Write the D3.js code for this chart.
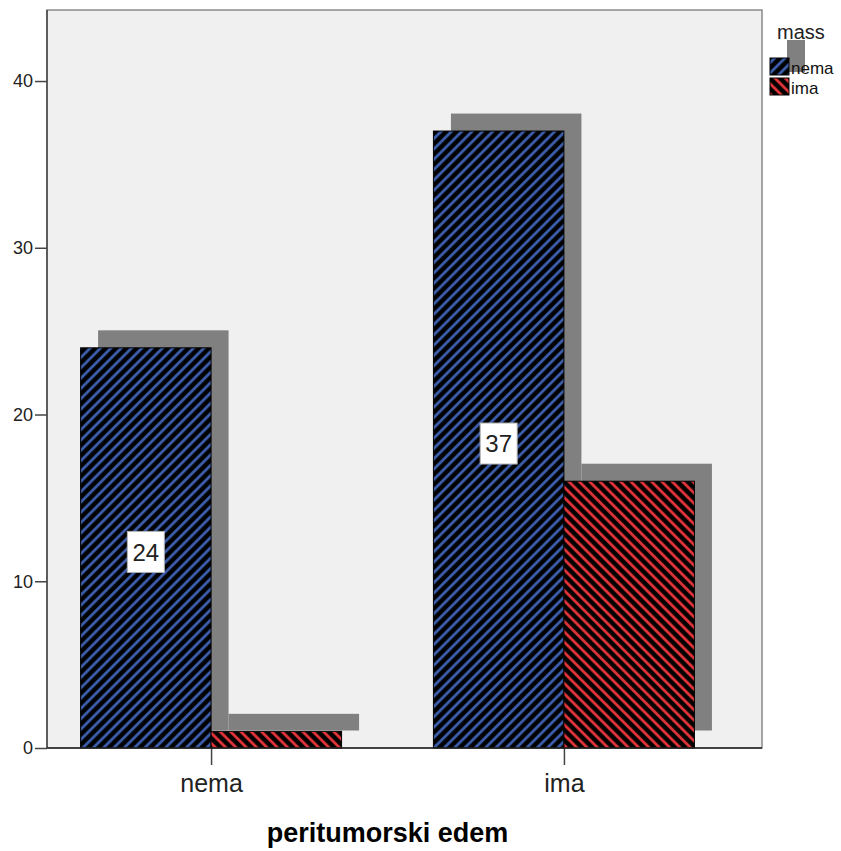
<!DOCTYPE html>
<html>
<head>
<meta charset="utf-8">
<script src="https://cdn.jsdelivr.net/npm/d3@7"></script>
<style>
  body { margin: 0; background: #fff; }
  text { font-family: "Liberation Sans", Arial, sans-serif; }
</style>
</head>
<body>
<script>
/* data */
var categories = ["nema", "ima"];          // peritumorski edem
var seriesNames = ["nema", "ima"];         // mass
var nemaValues = [24, 37];
var imaValues = [1, 16];
var yTicks = [0, 10, 20, 30, 40];
var xTitle = "peritumorski edem";
var legendTitle = "mass";

var width = 841, height = 851;
var plotLeft = 47, plotRight = 762, plotTop = 10, plotBottom = 748;
var depth = 17.5;   // offset of the grey shadow

var rows = [];
categories.forEach(function(c, i){
    rows.push({cat: c, series: "nema", value: nemaValues[i], label: true});
    rows.push({cat: c, series: "ima", value: imaValues[i], label: false});
});

var svg = d3.select("body").append("svg")
    .attr("width", width).attr("height", height);

// stripe patterns
var defs = svg.append("defs");
function stripes(id, color, angle){
    var p = defs.append("pattern").attr("id", id)
        .attr("patternUnits", "userSpaceOnUse")
        .attr("width", 7.3).attr("height", 7.3)
        .attr("patternTransform", "rotate(" + angle + ")");
    p.append("rect").attr("width", 7.3).attr("height", 7.3).attr("fill", "#000");
    p.append("rect").attr("x", 2).attr("width", 2.8).attr("height", 7.3).attr("fill", color);
}
stripes("pat-nema", "#3d5fad", 45);
stripes("pat-ima", "#e5353b", -45);
var fills = {nema: "url(#pat-nema)", ima: "url(#pat-ima)"};

// scales
var y = d3.scaleLinear().domain([0, 44.26]).range([plotBottom, plotTop]);
var x = d3.scalePoint().domain(categories).range([plotLeft, 728]).padding(0.465);
var xs = d3.scaleBand().domain(seriesNames).range([-130.5, 130.5]);

// plot background
svg.append("rect")
    .attr("x", plotLeft).attr("y", plotTop)
    .attr("width", plotRight - plotLeft).attr("height", plotBottom - plotTop)
    .attr("fill", "#f0f0f0").attr("stroke", "#8a8a8a").attr("stroke-width", 1.5);

// shadows
svg.append("g").selectAll("rect").data(rows).enter().append("rect")
    .attr("x", function(d){ return x(d.cat) + xs(d.series) + depth; })
    .attr("y", function(d){ return y(d.value) - depth; })
    .attr("width", xs.bandwidth())
    .attr("height", function(d){ return y(0) - y(d.value); })
    .attr("fill", "#808080");

// bars
svg.append("g").selectAll("rect").data(rows).enter().append("rect")
    .attr("x", function(d){ return x(d.cat) + xs(d.series); })
    .attr("y", function(d){ return y(d.value); })
    .attr("width", xs.bandwidth())
    .attr("height", function(d){ return y(0) - y(d.value); })
    .attr("fill", function(d){ return fills[d.series]; })
    .attr("stroke", "#000").attr("stroke-width", 1);

// value labels
var lab = svg.append("g").selectAll("g").data(rows.filter(function(d){ return d.label; }))
    .enter().append("g")
    .attr("transform", function(d){
        return "translate(" + (x(d.cat) + xs(d.series) + xs.bandwidth() / 2) + "," + ((y(d.value) + y(0)) / 2 + 4) + ")";
    });
lab.append("rect").attr("x", -18.5).attr("y", -20.5).attr("width", 37).attr("height", 41)
    .attr("fill", "#fff").attr("stroke", "#b0b0b0").attr("stroke-width", 1);
lab.append("text").attr("text-anchor", "middle").attr("dy", "0.36em")
    .style("font-size", "24px").attr("fill", "#222")
    .text(function(d){ return d.value; });

// y axis
var yAxis = svg.append("g").attr("transform", "translate(" + plotLeft + ",0)")
    .call(d3.axisLeft(y).tickValues(yTicks).tickSize(12).tickPadding(2));
yAxis.select(".domain").remove();
yAxis.selectAll("line").attr("stroke", "#444").attr("stroke-width", 1.5);
yAxis.selectAll("text").style("font-size", "18px").attr("fill", "#222");
svg.append("line").attr("x1", plotLeft).attr("x2", plotLeft).attr("y1", plotTop).attr("y2", plotBottom)
    .attr("stroke", "#444").attr("stroke-width", 1.5);

// x axis
var xAxis = svg.append("g").attr("transform", "translate(0," + plotBottom + ")")
    .call(d3.axisBottom(x).tickSize(17).tickPadding(9));
xAxis.select(".domain").remove();
xAxis.selectAll("line").attr("stroke", "#444").attr("stroke-width", 1.5);
xAxis.selectAll("text").style("font-size", "25px").attr("fill", "#222");
svg.append("line").attr("x1", plotLeft).attr("x2", plotRight).attr("y1", plotBottom).attr("y2", plotBottom)
    .attr("stroke", "#222").attr("stroke-width", 1.5);

// x title
svg.append("text")
    .attr("x", (plotLeft + 728) / 2).attr("y", 842)
    .attr("text-anchor", "middle")
    .style("font-size", "27px").style("font-weight", "bold")
    .text(xTitle);

// legend
var legend = svg.append("g");
legend.append("rect").attr("x", 787).attr("y", 40).attr("width", 18).attr("height", 32).attr("fill", "#808080");
legend.append("text").attr("x", 777).attr("y", 39).style("font-size", "20px").attr("fill", "#222").text(legendTitle);
var li = legend.selectAll("g.item").data(seriesNames).enter().append("g")
    .attr("transform", function(d, i){ return "translate(770," + (58 + i * 20) + ")"; });
li.append("rect").attr("width", 19).attr("height", 17)
    .attr("fill", function(d){ return fills[d]; })
    .attr("stroke", "#000").attr("stroke-width", 1);
li.append("text").attr("x", 21).attr("y", 16).style("font-size", "17px").attr("fill", "#111")
    .text(function(d){ return d; });
</script>
</body>
</html>
